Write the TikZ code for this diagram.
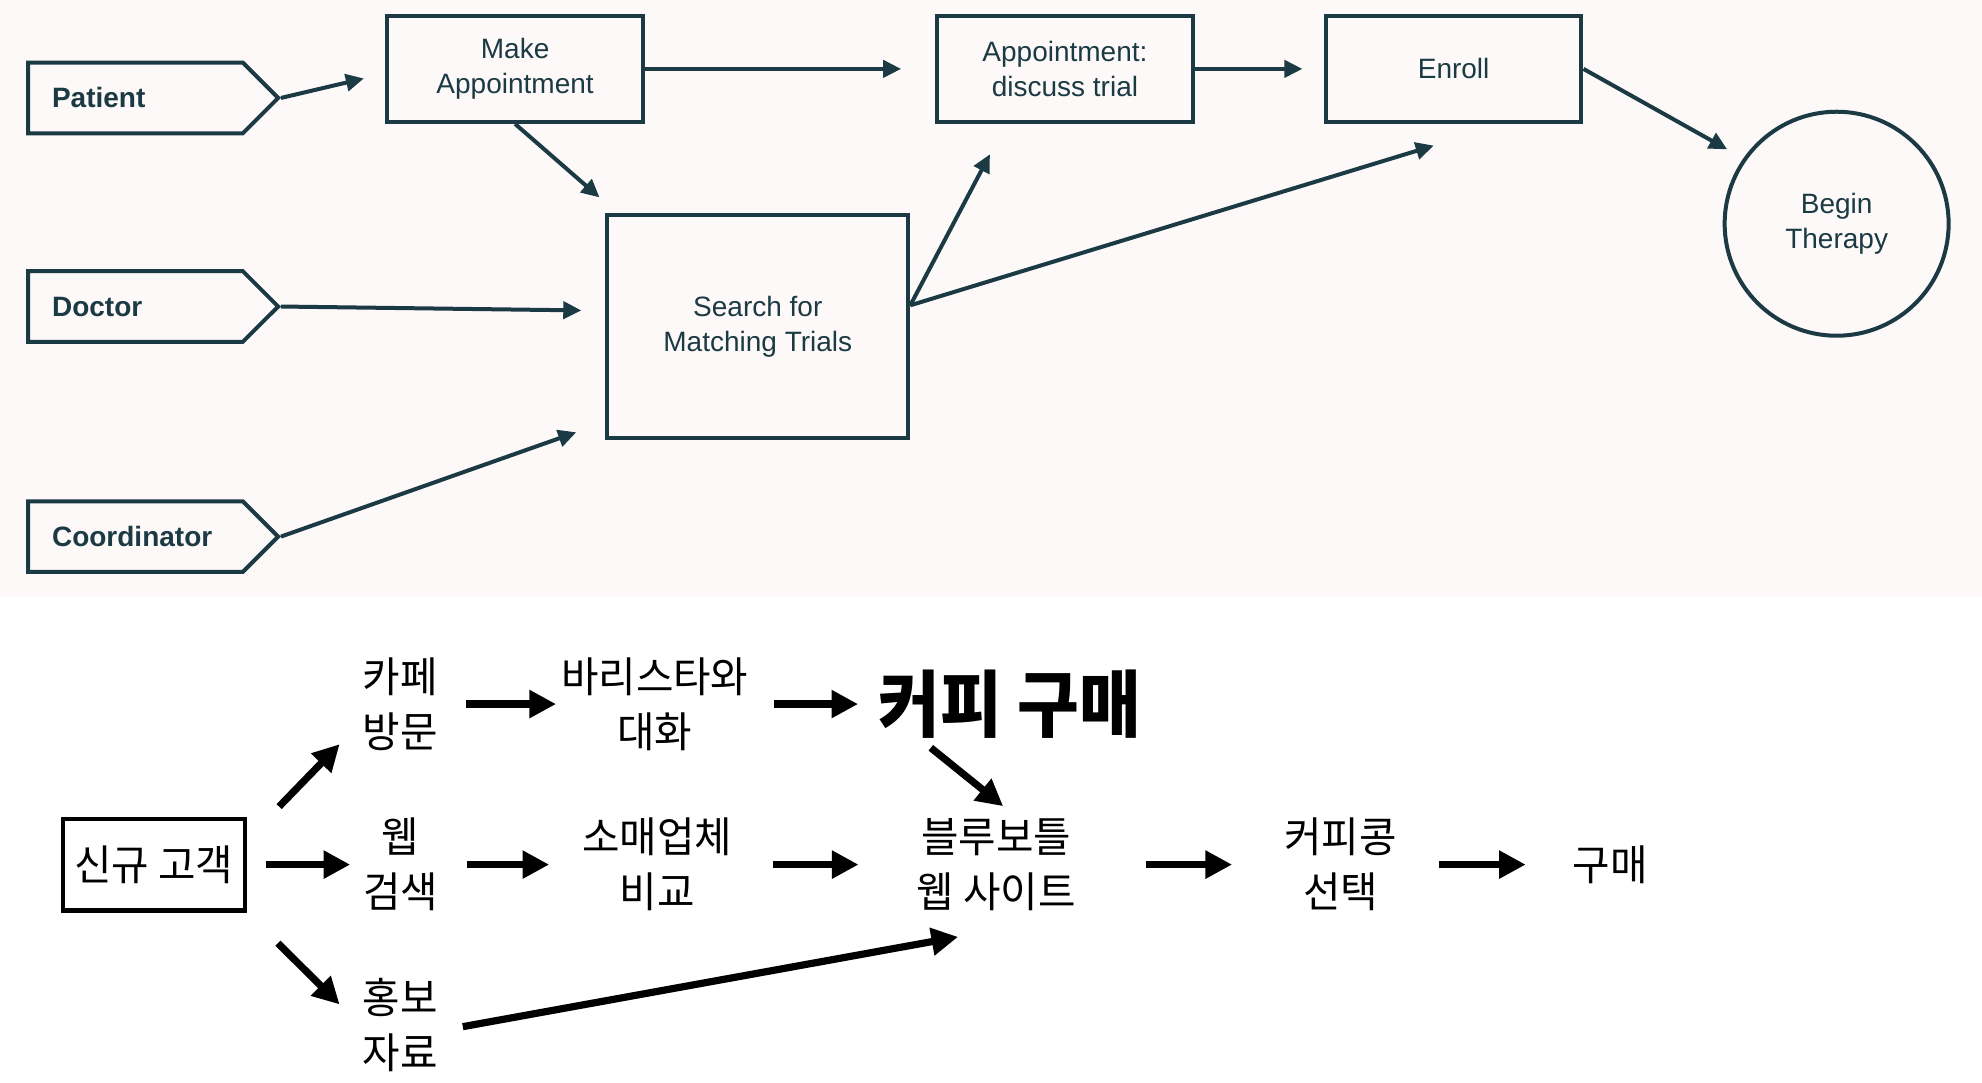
\documentclass[tikz,border=0pt]{standalone}
\usepackage{fontspec}
\setmainfont{Liberation Sans}
\newfontfamily\kr[FakeStretch=0.97]{Noto Sans CJK KR}
\newfontfamily\krhead[FakeStretch=0.92]{Noto Sans CJK KR}
\usepackage{tikz}
\usetikzlibrary{arrows.meta,shapes.symbols}

\definecolor{ink}{RGB}{28,58,68}
\definecolor{paper}{RGB}{252,249,248}

\begin{document}
\begin{tikzpicture}[x=0.632pt,y=-0.632pt,
    actor/.style={shape=signal, signal to=east, signal pointer angle=90, draw=ink, line width=2pt,
        text=ink, font=\bfseries\fontsize{14}{16}\selectfont, inner xsep=12pt, inner ysep=0pt,
        text width=83.4pt, align=left, minimum height=35.3pt, anchor=west},
    stepbox/.style={draw=ink, line width=2pt, minimum width=127.8pt, minimum height=53pt,
        align=center, text=ink, font=\fontsize{14}{17.7}\selectfont},
    link/.style={draw=ink, line width=2pt, -{Triangle[length=9pt,width=8.5pt]}},
    ktext/.style={font=\kr\fontsize{21}{27.5}\selectfont, align=center, inner sep=0pt},
    karrow/.style={line width=3.6pt, -{Triangle[length=13.3pt,width=13.3pt]}}]
    \useasboundingbox (0,0) rectangle (1568,856);
    \fill[paper] (0,0) rectangle (1568,472);
    \fill[white] (0,472) rectangle (1568,856);

    % trial workflow
    \node[actor] (patient) at (20.6,77.5) {Patient};
    \node[actor] (doctor) at (20.6,242.5) {Doctor};
    \node[actor] (coord) at (20.6,424.5) {Coordinator};
    \node[stepbox] (make) at (407.5,54.5) {Make\\Appointment};
    \node[stepbox] (appt) at (842.5,54.5) {Appointment:\\discuss trial};
    \node[stepbox] (enroll) at (1150,54.5) {Enroll};
    \node[stepbox, minimum width=150.5pt, minimum height=111.3pt] (search) at (599.5,258.5) {Search for\\Matching Trials};
    \node[stepbox, circle, minimum size=112pt] (therapy) at (1453,177) {Begin\\Therapy};

    \draw[link, shorten >=11pt] (patient.east) -- (make.182);
    \draw[link, shorten >=17pt] (make.east) -- (appt.west);
    \draw[link, shorten >=12.2pt] (make.south) -- (search.141.9);
    \draw[link, shorten >=12pt] (doctor.east) -- (search.174.2);
    \draw[link, shorten >=15.4pt] (coord.east) -- (search.212.8);
    \draw[link, shorten >=17.2pt] (search.8.7) -- (appt.223);
    \draw[link, shorten >=37.2pt] (search.8.7) -- (enroll.313.6);
    \draw[link, shorten >=10.7pt] (appt.east) -- (enroll.west);
    \draw[link, shorten >=9.2pt] (enroll.east) -- (therapy.145.6);

    % customer journey
    \node[ktext, draw, line width=2.2pt, minimum width=91pt, minimum height=45.8pt] (newc) at (121.75,684) {신규 고객};
    \node[ktext] (cafe) at (316.5,557) {카페\\방문};
    \node[ktext] (barista) at (518,557) {바리스타와\\대화};
    \node[ktext, font=\krhead\bfseries\fontsize{36.5}{40}\selectfont] (coffee) at (799,557) {커피 구매};
    \node[ktext] (web) at (317,684) {웹\\검색};
    \node[ktext] (retail) at (520,684) {소매업체\\비교};
    \node[ktext] (blue) at (788,684) {블루보틀\\웹 사이트};
    \node[ktext] (bean) at (1060.5,684) {커피콩\\선택};
    \node[ktext] (buy) at (1274,684) {구매};
    \node[ktext] (promo) at (316.7,811) {홍보\\자료};

    \draw[karrow, shorten <=23pt, shorten >=16.2pt] (newc.15) -- (cafe.204.8);
    \draw[karrow, shorten <=9.2pt, shorten >=6.3pt] (newc.east) -- (web.west);
    \draw[karrow, shorten <=21.7pt, shorten >=16.1pt] (newc.south east) -- (promo.183.9);
    \draw[karrow, shorten <=13.9pt, shorten >=2.3pt] (cafe.east) -- (barista.west);
    \draw[karrow, shorten <=12.5pt, shorten >=10.1pt] (barista.east) -- (coffee.west);
    \draw[karrow, shorten <=14.2pt, shorten >=16.4pt] (web.east) -- (retail.west);
    \draw[karrow, shorten <=7.2pt, shorten >=9.4pt] (coffee.201.9) -- (blue.65);
    \draw[karrow, shorten <=20pt, shorten >=28.8pt] (retail.east) -- (blue.west);
    \draw[karrow, shorten <=12.5pt, shorten >=19.3pt] (promo.351.1) -- ([yshift=-9.4pt]blue.south);
    \draw[karrow, shorten <=35.1pt, shorten >=25.9pt] (blue.east) -- (bean.west);
    \draw[karrow, shorten <=20.9pt, shorten >=23.4pt] (bean.east) -- (buy.west);
\end{tikzpicture}
\end{document}
